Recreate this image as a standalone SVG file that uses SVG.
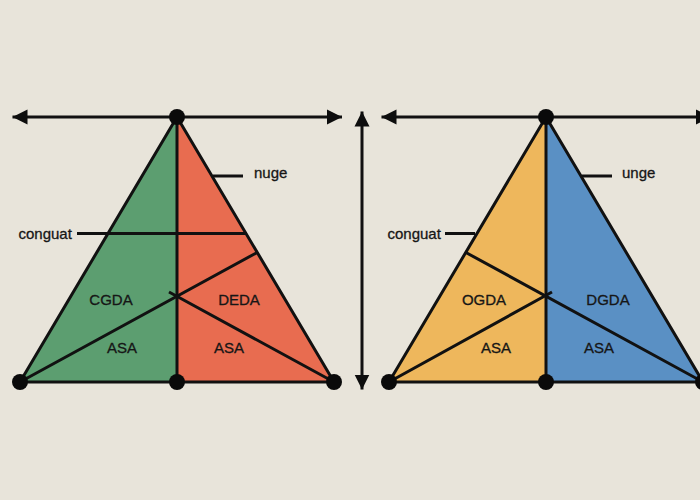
<svg xmlns="http://www.w3.org/2000/svg" width="700" height="500" viewBox="0 0 700 500">
<defs>
<marker id="ah" viewBox="0 0 16 16" refX="15" refY="8" markerWidth="16" markerHeight="16" markerUnits="userSpaceOnUse" orient="auto-start-reverse"><path d="M0 .5L15 8L0 15.500Z" fill="#0d0d0d"/></marker>
</defs>
<style>
.ar{stroke:#111;stroke-width:3;fill:none}
.ln{stroke:#111;stroke-width:3;fill:none;stroke-linecap:butt;stroke-linejoin:round}
.tri{stroke:none}
text{font-family:"Liberation Sans",Arial,sans-serif;font-size:15px;fill:#161616;stroke:#161616;stroke-width:.3px}
.m{text-anchor:middle}
.dot{fill:#0a0a0a}
</style>
<rect width="700" height="500" fill="#e8e4da"/>
<g id="fills">
<path class="tri" d="M177 117L20 382H177Z" fill="#5c9e70"/>
<path class="tri" d="M177 117L334 382H177Z" fill="#e86c50"/>
<path class="tri" d="M546 117L389 382H546Z" fill="#eeb75c"/>
<path class="tri" d="M546 117L703 382H546Z" fill="#5a90c4"/>
</g>
<g id="connectors">
<path class="ar" d="M12.500 117H342" marker-start="url(#ah)" marker-end="url(#ah)"/>
<path class="ar" d="M381.500 117H711" marker-start="url(#ah)" marker-end="url(#ah)"/>
<path class="ar" d="M362 111.500V389.500" marker-start="url(#ah)" marker-end="url(#ah)"/>
<path class="ln" d="M177 117L20 382H334ZM177 117V382"/>
<path class="ln" d="M546 117L389 382H703ZM546 117V382"/>
<path class="ln" d="M20 382L258 252M169 292L334 382"/>
<path class="ln" d="M389 382L552 292M465 252L703 382"/>
<path class="ln" d="M77 233.500H247"/>
<path class="ln" d="M445 233.500H475"/>
<path class="ln" d="M213 176H243"/>
<path class="ln" d="M582 176H612"/>
</g>
<g id="n1"><circle class="dot" cx="177" cy="117" r="8"/></g>
<g id="n2"><circle class="dot" cx="20" cy="382" r="8"/></g>
<g id="n3"><circle class="dot" cx="177" cy="382" r="8"/></g>
<g id="n4"><circle class="dot" cx="334" cy="382" r="8"/></g>
<g id="n5"><circle class="dot" cx="546" cy="117" r="8"/></g>
<g id="n6"><circle class="dot" cx="389" cy="382" r="8"/></g>
<g id="n7"><circle class="dot" cx="546" cy="382" r="8"/></g>
<g id="n8"><circle class="dot" cx="703" cy="382" r="8"/></g>
<g id="labels">
<text x="254" y="178">nuge</text>
<text x="622" y="178">unge</text>
<text x="18.500" y="239">conguat</text>
<text x="387.500" y="239">conguat</text>
<text class="m" x="111" y="305">CGDA</text>
<text class="m" x="239" y="305">DEDA</text>
<text class="m" x="484" y="305">OGDA</text>
<text class="m" x="608" y="305">DGDA</text>
<text class="m" x="122" y="353">ASA</text>
<text class="m" x="229" y="353">ASA</text>
<text class="m" x="496" y="353">ASA</text>
<text class="m" x="599" y="353">ASA</text>
</g>
</svg>
